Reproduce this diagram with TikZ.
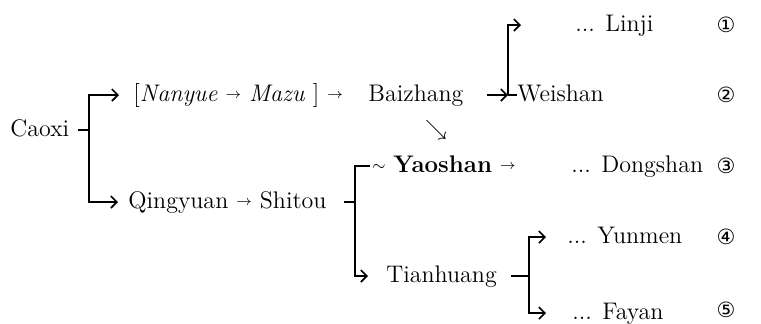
\documentclass[tikz,border=0pt]{standalone}
\usepackage{fontspec}
\newfontfamily\circfont{DejaVu Sans}
\usetikzlibrary{arrows.meta}
\newcommand{\arr}{\raisebox{1.2pt}{\fontsize{7}{7}\selectfont$\rightarrow$}}
\newcommand{\tld}{\raisebox{1pt}{\fontsize{8}{8}\selectfont$\sim$}}

\begin{document}
\begin{tikzpicture}[x=0.5pt,y=-0.5pt,
    monk/.style={inner sep=0pt,anchor=west,text height=8pt,text depth=2pt,font=\fontsize{12}{14}\selectfont},
    num/.style={inner sep=0pt,font=\circfont\fontsize{10.5}{12}\selectfont},
    brline/.style={line width=0.8pt},
    brarrow/.style={brline,-{Straight Barb[length=3pt,width=6pt]}}]
                \useasboundingbox (0,0) rectangle (761,323);

                % names
                \node[monk] (caoxi) at (10,130) {Caoxi};
                \node[monk] (nanyue) at (133,95) {[\textit{Nanyue} \arr\ \textit{Mazu} ] \arr};
                \node[monk] (baizhang) at (368,95) {Baizhang};
                \node[monk] (weishan) at (517,95) {Weishan};
                \node[monk] (linji) at (575,25) {... Linji};
                \node[inner sep=0pt,font=\fontsize{10.5}{11}\selectfont] (turn) at (436,130) {$\searrow$};
                \node[monk] (qingyuan) at (128,202) {Qingyuan \arr\ Shitou};
                \node[monk] (yaoshan) at (372,166) {\tld\ \textbf{Yaoshan} \arr};
                \node[monk] (dongshan) at (571,166) {... Dongshan};
                \node[monk] (tianhuang) at (386,276) {Tianhuang};
                \node[monk] (yunmen) at (567,237) {... Yunmen};
                \node[monk] (fayan) at (572,313) {... Fayan};

                % numbers
                \node[num] (n1) at (726,25) {①};
                \node[num] (n2) at (726,95) {②};
                \node[num] (n3) at (726,166) {③};
                \node[num] (n4) at (726,237) {④};
                \node[num] (n5) at (726,310) {⑤};

                % brackets
                \coordinate (cj) at (89,130);
                \coordinate (wj) at (508,95);
                \coordinate (sj) at (355,202);
                \coordinate (tj) at (529,276);

                \draw[brline,shorten <=4pt] (caoxi) -- (cj);
                \draw[brarrow,shorten >=7pt] (cj) |- (nanyue);
                \draw[brarrow,shorten >=5pt] (cj) |- (qingyuan);

                \draw[brarrow,shorten <=11.5pt] (baizhang) -- (wj);
                \draw[brline] (wj) -- (weishan);
                \draw[brarrow,shorten >=27pt] (wj) |- (linji);

                \draw[brline,shorten <=8.5pt] (qingyuan) -- (sj);
                \draw[brline,shorten >=1pt] (sj) |- (yaoshan);
                \draw[brarrow,shorten >=9pt] (sj) |- (tianhuang);

                \draw[brline,shorten <=7pt] (tianhuang) -- (tj);
                \draw[brarrow,shorten >=10.5pt] (tj) |- (yunmen);
                \draw[brarrow,shorten >=13pt] (tj) |- (fayan);
\end{tikzpicture}
\end{document}
